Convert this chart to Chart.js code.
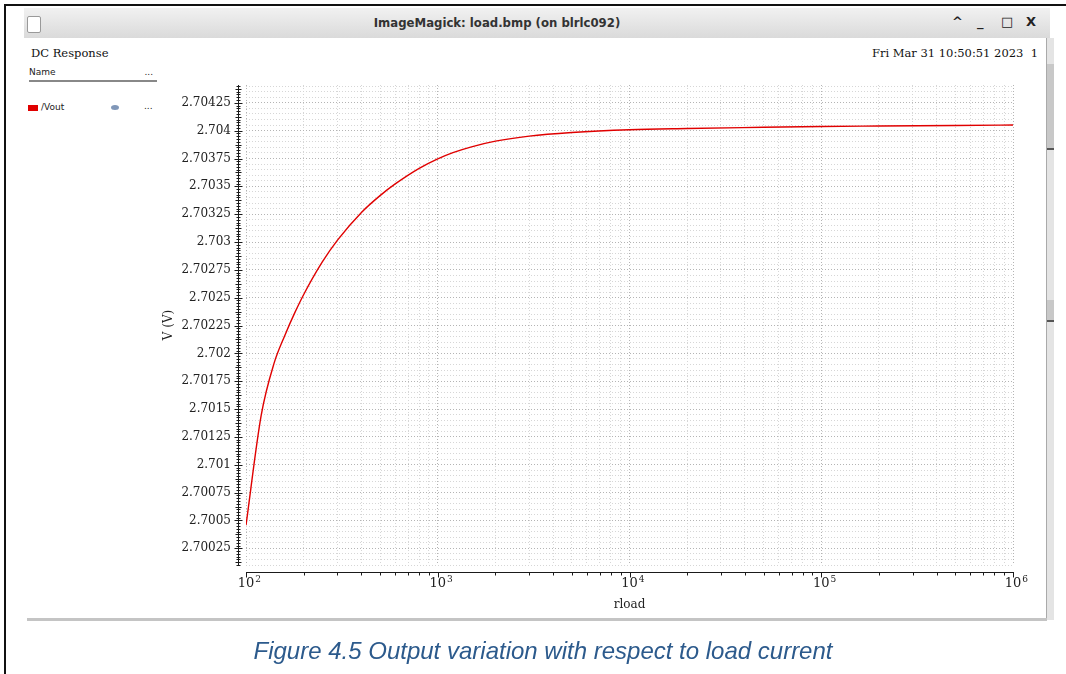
<!DOCTYPE html>
<html>
<head>
<meta charset="utf-8">
<title>DC Response</title>
<script src="https://cdn.jsdelivr.net/npm/chart.js@4/dist/chart.umd.min.js"></script>
<style>
    body { margin: 0; width: 1066px; height: 674px; background: #fff; position: relative; overflow: hidden; font-family: 'DejaVu Serif', serif; }
    #chart { position: absolute; left: 0; top: 0; }
    .frame-top { position: absolute; left: 4px; top: 4px; width: 1062px; height: 2px; background: #111; }
    .frame-left { position: absolute; left: 4px; top: 4px; width: 2px; height: 670px; background: #111; }
    .titlebar { position: absolute; left: 24px; top: 8px; width: 1026px; height: 30px; background: linear-gradient(#f1f1f1, #dadada); }
    .titlebar .icon { position: absolute; left: 3px; top: 8px; width: 12px; height: 15px; background: #fff; border: 1px solid #999; border-radius: 2px; }
    .titlebar .name { position: absolute; left: 0; width: 946px; top: 7px; text-align: center; font: bold 13px 'DejaVu Sans Condensed', 'DejaVu Sans', sans-serif; color: #333; }
    .titlebar .ctl { position: absolute; top: 6px; font: bold 13px 'DejaVu Sans', sans-serif; color: #222; }
    .scroll { position: absolute; left: 1046px; top: 38px; width: 7px; height: 582px; background: #e4e4e4; border-left: 1px solid #aaa; }
    .scroll .knob { position: absolute; left: 0; width: 7px; background: #c8c8c8; border-bottom: 2px solid #555; }
    .bottom-line { position: absolute; left: 27px; top: 618px; width: 1020px; height: 3px; background: #c4c4c4; }
    .hdr { position: absolute; top: 46px; font-size: 11.5px; color: #111; }
    .namecol { position: absolute; left: 29px; top: 67px; width: 128px; font: 9px 'DejaVu Sans', sans-serif; color: #222; border-bottom: 2px solid #888; padding-bottom: 3px; }
    .namecol span { position: absolute; right: 4px; }
    #legend { position: absolute; left: 28px; top: 102px; font: 9px 'DejaVu Sans', sans-serif; color: #222; }
    #legend .sw { position: absolute; left: 0; top: 3px; width: 10px; height: 6px; }
    #legend .lbl { position: absolute; left: 13px; top: 0; }
    #legend .eye { position: absolute; left: 83px; top: 3px; width: 8px; height: 5px; border-radius: 50%; background: #8097b8; }
    #legend .more { position: absolute; left: 116px; top: -1px; }
    .caption { position: absolute; left: 0; width: 1086px; top: 637px; text-align: center; font: italic 24px 'Liberation Sans', Arial, sans-serif; color: #2c5a8c; }
</style>
</head>
<body>
<div class="frame-top"></div>
<div class="frame-left"></div>
<div class="titlebar">
    <div class="icon"></div>
    <div class="name">ImageMagick: load.bmp (on blrlc092)</div>
    <div class="ctl" style="left:928px">^</div>
    <div class="ctl" style="left:953px">_</div>
    <div class="ctl" style="left:977px">□</div>
    <div class="ctl" style="left:1002px">X</div>
</div>
<div class="scroll">
    <div class="knob" style="top:26px;height:84px"></div>
    <div class="knob" style="top:262px;height:20px"></div>
</div>
<div class="hdr" style="left:31px">DC Response</div>
<div class="hdr" style="right:28px">Fri Mar 31 10:50:51 2023&nbsp; 1</div>
<div class="namecol">Name<span>...</span></div>
<div id="legend"></div>
<canvas id="chart" width="1066" height="674"></canvas>
<div class="bottom-line"></div>
<div class="caption">Figure 4.5 Output variation with respect to load current</div>

<script>
// rload sweep (ohm) and /Vout (V)
const rload = [100, 120, 140, 160, 180, 200, 250, 300, 400, 500, 600, 800,
    1000, 1200, 1500, 2000, 3000, 5000, 1e4, 2e4, 5e4, 1e5, 2e5, 5e5, 1e6];
const vout = [2.700457, 2.701444, 2.701910, 2.702168, 2.702368, 2.702529, 2.702821, 2.703017,
    2.703266, 2.703417, 2.703522, 2.703662, 2.703747, 2.703803, 2.703855, 2.703906,
    2.703951, 2.703983, 2.704008, 2.704019, 2.704030, 2.704038, 2.704042, 2.704047, 2.704051];

const yTickValues = [2.70025, 2.7005, 2.70075, 2.701, 2.70125, 2.7015, 2.70175, 2.702,
    2.70225, 2.7025, 2.70275, 2.703, 2.70325, 2.7035, 2.70375, 2.704, 2.70425];
const xDecades = [100, 1000, 10000, 100000, 1000000];
const xExponents = ['2', '3', '4', '5', '6'];

const yMin = 2.7001, yMax = 2.70441;
const yStep = 0.00025;

// every 1..9 x 10^k between the decades, for the log grid
const xGridValues = [];
xDecades.slice(0, -1).forEach(d => { for (let m = 1; m < 10; m++) xGridValues.push(d * m); });
xGridValues.push(xDecades[xDecades.length - 1]);

// horizontal grid every fifth of a labelled step
const yGridValues = [];
for (let k = Math.ceil(yMin / (yStep / 5)); k * (yStep / 5) <= yMax; k++) yGridValues.push(+(k * yStep / 5).toFixed(6));

const isMajorY = v => yTickValues.some(t => Math.abs(t - v) < 1e-7);
const isDecade = v => xDecades.includes(v);

const serif = "'DejaVu Serif', serif";

// axis lines sit a few pixels off the plot, like the simulator viewer draws them
const simAxes = {
    id: 'simAxes',
    afterDraw(chart) {
        const { ctx, chartArea, scales: { x, y } } = chart;
        ctx.save();
        ctx.strokeStyle = '#1a1a1a';
        ctx.lineWidth = 1;
        ctx.beginPath();
        const ax = chartArea.left - 7.5;
        ctx.moveTo(ax, chartArea.top);
        ctx.lineTo(ax, chartArea.bottom + 1);
        const fine = yStep / 10;
        for (let k = Math.ceil(yMin / fine); k * fine <= yMax; k++) {
            const p = Math.round(y.getPixelForValue(k * fine)) + 0.5;
            const len = k % 10 === 0 ? 4 : (k % 5 === 0 ? 3 : 2);
            ctx.moveTo(ax - len, p);
            ctx.lineTo(ax + len, p);
        }
        const ay = chartArea.bottom + 7.5;
        ctx.moveTo(x.getPixelForValue(xDecades[0]), ay);
        ctx.lineTo(x.getPixelForValue(xDecades[xDecades.length - 1]) + 1, ay);
        xGridValues.forEach(v => {
            const p = Math.round(x.getPixelForValue(v)) + 0.5;
            ctx.moveTo(p, ay);
            ctx.lineTo(p, ay + (isDecade(v) ? 5 : 3));
        });
        ctx.stroke();

        // decade labels as 10 with a raised exponent
        ctx.fillStyle = '#222';
        ctx.textBaseline = 'alphabetic';
        xDecades.forEach((d, i) => {
            const p = x.getPixelForValue(d);
            ctx.font = `13px ${serif}`;
            const w = ctx.measureText('10').width;
            ctx.textAlign = 'center';
            ctx.fillText('10', p, ay + 14.5);
            ctx.font = `9px ${serif}`;
            ctx.textAlign = 'left';
            ctx.fillText(xExponents[i], p + w / 2 + 1, ay + 9);
        });
        ctx.restore();
    }
};

const ctx = document.getElementById('chart');
const chart = new Chart(ctx, {
    type: 'line',
    data: {
        datasets: [{
            label: '/Vout',
            data: rload.map((r, i) => ({ x: r, y: vout[i] })),
            borderColor: '#e00000',
            backgroundColor: '#e00000',
            borderWidth: 1.4,
            pointRadius: 0,
            cubicInterpolationMode: 'monotone',
            fill: false
        }]
    },
    options: {
        responsive: false,
        animation: false,
        devicePixelRatio: 1,
        layout: { padding: { left: 150, top: 85, right: 53, bottom: 62 } },
        plugins: { legend: { display: false }, tooltip: { enabled: false } },
        scales: {
            x: {
                type: 'logarithmic',
                min: 100,
                max: 1e6,
                afterBuildTicks: s => { s.ticks = xGridValues.map(v => ({ value: v })); },
                afterFit: s => { s.height = 47; },
                ticks: { display: false, autoSkip: false },
                grid: {
                    drawTicks: false,
                    lineWidth: 1,
                    color: c => isDecade(c.tick.value) ? '#b4b4b4' : '#d6d6d6'
                },
                border: { display: false, dash: [1, 2] },
                title: { display: true, text: 'rload', color: '#222', font: { family: serif, size: 12 }, padding: 0 }
            },
            y: {
                min: yMin,
                max: yMax,
                afterBuildTicks: s => { s.ticks = yGridValues.map(v => ({ value: v })); },
                afterFit: s => { s.width = 96; },
                ticks: {
                    autoSkip: false,
                    padding: 15,
                    color: '#222',
                    font: { family: serif, size: 12 },
                    callback: v => isMajorY(v) ? String(parseFloat(v.toFixed(5))) : ''
                },
                grid: {
                    drawTicks: false,
                    lineWidth: 1,
                    color: c => isMajorY(c.tick.value) ? '#b4b4b4' : '#d6d6d6'
                },
                border: { display: false, dash: [1, 2] },
                title: { display: true, text: 'V (V)', color: '#222', font: { family: serif, size: 12 }, padding: { top: 12, bottom: 0 } }
            }
        }
    },
    plugins: [simAxes]
});

// the viewer's signal list on the left
const legend = document.getElementById('legend');
chart.data.datasets.forEach(ds => {
    legend.innerHTML += `<div class="sw" style="background:${ds.borderColor}"></div>` +
        `<div class="lbl">${ds.label}</div><div class="eye"></div><div class="more">...</div>`;
});
</script>
</body>
</html>
